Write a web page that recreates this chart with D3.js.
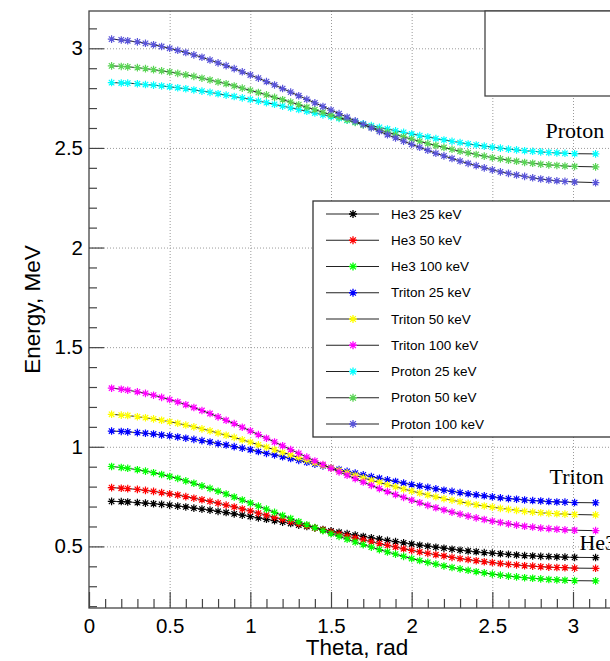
<!DOCTYPE html>
<html>
<head>
<meta charset="utf-8">
<script src="https://cdn.jsdelivr.net/npm/d3@7/dist/d3.min.js"></script>
<style>
  html, body { margin: 0; padding: 0; background: #fff; }
  svg { display: block; }
  text { font-family: "Liberation Sans", Arial, Helvetica, sans-serif; }
</style>
</head>
<body>
<svg id="chart" width="610" height="661"></svg>
<script>
// Emission angle (rad)
const theta = [0.14,0.20,0.24,0.30,0.35,0.40,0.45,0.50,0.55,0.60,0.65,0.70,0.75,0.80,0.85,0.90,0.95,1.00,1.05,1.10,1.15,1.20,1.25,1.30,1.35,1.40,1.45,1.50,1.55,1.60,1.65,1.70,1.75,1.80,1.85,1.90,1.95,2.00,2.05,2.10,2.15,2.20,2.25,2.30,2.35,2.40,2.45,2.50,2.55,2.60,2.65,2.70,2.75,2.80,2.85,2.90,2.95,3.01,3.14];

// Product energies (MeV) for deuteron energies of 25, 50 and 100 keV
const he3_25 = [0.726,0.725,0.723,0.720,0.717,0.714,0.711,0.707,0.702,0.698,0.692,0.687,0.682,0.676,0.670,0.663,0.657,0.650,0.643,0.636,0.629,0.622,0.615,0.607,0.600,0.593,0.585,0.578,0.571,0.564,0.557,0.550,0.543,0.537,0.530,0.524,0.518,0.512,0.506,0.501,0.496,0.491,0.486,0.481,0.477,0.473,0.469,0.466,0.463,0.460,0.457,0.454,0.452,0.450,0.449,0.447,0.446,0.445,0.444];
const he3_50 = [0.795,0.792,0.790,0.786,0.781,0.776,0.770,0.764,0.758,0.750,0.742,0.734,0.726,0.717,0.707,0.698,0.688,0.678,0.667,0.657,0.646,0.636,0.625,0.614,0.604,0.593,0.583,0.572,0.562,0.552,0.542,0.533,0.523,0.514,0.505,0.497,0.488,0.480,0.472,0.465,0.458,0.452,0.445,0.439,0.434,0.428,0.423,0.419,0.414,0.410,0.407,0.403,0.401,0.398,0.396,0.394,0.393,0.391,0.390];
const he3_100 = [0.901,0.896,0.892,0.885,0.878,0.870,0.861,0.851,0.841,0.829,0.817,0.804,0.791,0.777,0.763,0.748,0.733,0.718,0.702,0.687,0.671,0.655,0.640,0.624,0.609,0.594,0.579,0.564,0.550,0.536,0.522,0.509,0.496,0.484,0.472,0.461,0.450,0.439,0.429,0.420,0.411,0.402,0.394,0.387,0.380,0.373,0.367,0.361,0.356,0.351,0.347,0.343,0.340,0.337,0.334,0.332,0.330,0.328,0.327];
const tri_25 = [1.079,1.077,1.075,1.071,1.068,1.064,1.059,1.055,1.049,1.043,1.037,1.031,1.024,1.016,1.009,1.001,0.993,0.985,0.976,0.967,0.959,0.950,0.941,0.932,0.922,0.913,0.904,0.895,0.886,0.877,0.868,0.859,0.850,0.842,0.834,0.826,0.818,0.810,0.803,0.796,0.789,0.782,0.776,0.770,0.764,0.759,0.754,0.749,0.744,0.740,0.737,0.733,0.730,0.728,0.725,0.723,0.722,0.720,0.719];
const tri_50 = [1.163,1.159,1.157,1.151,1.146,1.140,1.133,1.126,1.118,1.109,1.100,1.090,1.080,1.069,1.058,1.047,1.035,1.023,1.010,0.998,0.985,0.972,0.959,0.946,0.933,0.920,0.907,0.894,0.881,0.869,0.856,0.844,0.832,0.821,0.809,0.799,0.788,0.778,0.768,0.758,0.749,0.740,0.732,0.724,0.716,0.709,0.703,0.697,0.691,0.686,0.681,0.676,0.672,0.669,0.666,0.664,0.662,0.660,0.658];
const tri_100 = [1.294,1.289,1.284,1.276,1.268,1.259,1.248,1.237,1.225,1.211,1.197,1.182,1.167,1.150,1.133,1.116,1.098,1.080,1.061,1.043,1.024,1.005,0.986,0.967,0.948,0.929,0.911,0.892,0.874,0.857,0.840,0.823,0.806,0.790,0.775,0.760,0.746,0.732,0.719,0.706,0.694,0.683,0.672,0.662,0.652,0.643,0.635,0.627,0.620,0.613,0.607,0.601,0.597,0.592,0.589,0.586,0.583,0.581,0.579];
const pro_25 = [2.828,2.826,2.825,2.822,2.818,2.815,2.811,2.807,2.802,2.797,2.791,2.785,2.779,2.772,2.765,2.758,2.751,2.743,2.735,2.727,2.719,2.710,2.701,2.693,2.684,2.675,2.666,2.657,2.648,2.639,2.630,2.621,2.612,2.603,2.595,2.586,2.578,2.570,2.562,2.555,2.547,2.540,2.533,2.527,2.520,2.515,2.509,2.504,2.499,2.494,2.490,2.486,2.483,2.480,2.477,2.475,2.473,2.471,2.470];
const pro_50 = [2.912,2.909,2.907,2.903,2.898,2.893,2.887,2.881,2.874,2.867,2.859,2.850,2.841,2.831,2.822,2.811,2.800,2.789,2.778,2.766,2.754,2.742,2.730,2.717,2.704,2.692,2.679,2.666,2.653,2.641,2.628,2.615,2.603,2.591,2.579,2.567,2.555,2.544,2.533,2.522,2.512,2.502,2.493,2.483,2.475,2.467,2.459,2.451,2.445,2.438,2.433,2.427,2.423,2.418,2.415,2.412,2.409,2.407,2.405];
const pro_100 = [3.046,3.042,3.038,3.032,3.025,3.018,3.009,3.000,2.990,2.979,2.967,2.955,2.941,2.927,2.913,2.898,2.882,2.866,2.850,2.833,2.816,2.798,2.780,2.762,2.744,2.726,2.708,2.690,2.672,2.654,2.636,2.618,2.601,2.583,2.566,2.550,2.534,2.518,2.503,2.488,2.473,2.460,2.447,2.434,2.422,2.411,2.400,2.390,2.380,2.372,2.364,2.357,2.350,2.344,2.339,2.335,2.332,2.329,2.326];

const seriesNames = ["He3 25 keV","He3 50 keV","He3 100 keV","Triton 25 keV","Triton 50 keV","Triton 100 keV","Proton 25 keV","Proton 50 keV","Proton 100 keV"];
const seriesValues = [he3_25, he3_50, he3_100, tri_25, tri_50, tri_100, pro_25, pro_50, pro_100];
const seriesColors = ["#000000","#ff0000","#00ff00","#0000ff","#ffff00","#ff00ff","#00ffff","#59d454","#5954d9"];

const xTicks = [0, 0.5, 1, 1.5, 2, 2.5, 3];
const yTicks = [0.5, 1, 1.5, 2, 2.5, 3];
const groupLabels = [
  {text: "Proton", x: 2.83, y: 2.55},
  {text: "Triton", x: 2.855, y: 0.815},
  {text: "He3", x: 3.04, y: 0.48}
];

const svg = d3.select("#chart");
const W = 610, H = 661;
const frame = {left: 89, top: 11, right: 625, bottom: 608};

const x = d3.scaleLinear().domain([0, 3]).range([89, 573]);
const y = d3.scaleLinear().domain([0.5, 3]).range([546.4, 48.3]);

svg.append("rect").attr("width", W).attr("height", H).attr("fill", "#fff");

// grid
const grid = svg.append("g").attr("stroke", "#9a9a9a").attr("stroke-width", 1).attr("stroke-dasharray", "1,2");
grid.selectAll("line.gx").data(xTicks.filter(d => d > 0)).join("line")
  .attr("x1", d => x(d) + 0.5).attr("x2", d => x(d) + 0.5)
  .attr("y1", frame.top).attr("y2", frame.bottom);
grid.selectAll("line.gy").data(yTicks).join("line")
  .attr("x1", frame.left).attr("x2", frame.right)
  .attr("y1", d => y(d) + 0.5).attr("y2", d => y(d) + 0.5);

// frame
svg.append("rect")
  .attr("x", frame.left).attr("y", frame.top)
  .attr("width", frame.right - frame.left).attr("height", frame.bottom - frame.top)
  .attr("fill", "none").attr("stroke", "#444").attr("stroke-width", 1.3);

// axes
const minorX = d3.range(0, 3.3, 0.1).filter(v => Math.abs(v * 2 - Math.round(v * 2)) > 1e-6);
const minorY = d3.range(0.2, 3.19, 0.1).filter(v => Math.abs(v * 2 - Math.round(v * 2)) > 1e-6);

const xAxis = svg.append("g").attr("transform", `translate(0,${frame.bottom})`)
  .call(d3.axisBottom(x).tickValues(xTicks).tickSizeInner(-16).tickSizeOuter(0).tickPadding(10)
    .tickFormat(d3.format("")));
const xMinor = svg.append("g").attr("transform", `translate(0,${frame.bottom})`)
  .call(d3.axisBottom(x).tickValues(minorX).tickSizeInner(-9).tickSizeOuter(0).tickFormat(""));

const yAxis = svg.append("g").attr("transform", `translate(${frame.left},0)`)
  .call(d3.axisLeft(y).tickValues(yTicks).tickSizeInner(-15).tickSizeOuter(0).tickPadding(6)
    .tickFormat(d3.format("")));
const yMinor = svg.append("g").attr("transform", `translate(${frame.left},0)`)
  .call(d3.axisLeft(y).tickValues(minorY).tickSizeInner(-8).tickSizeOuter(0).tickFormat(""));

[xAxis, xMinor, yAxis, yMinor].forEach(g => {
  g.select(".domain").remove();
  g.selectAll(".tick line").attr("stroke", "#444").attr("stroke-width", 1.2);
});
[xAxis, yAxis].forEach(g => {
  g.selectAll(".tick text").attr("fill", "#000").style("font-size", "20.5px")
    .style("font-family", "'Liberation Sans', Arial, sans-serif");
});

// axis titles, centred on their axes
svg.append("text").attr("x", (frame.left + frame.right) / 2).attr("y", 655).attr("text-anchor", "middle")
  .style("font-size", "22.5px").text("Theta, rad");
svg.append("text")
  .attr("transform", `translate(40,${(frame.top + frame.bottom) / 2}) rotate(-90)`)
  .attr("text-anchor", "middle")
  .style("font-size", "22.5px").text("Energy, MeV");

// marker: ROOT style asterisk
function starPath(r) {
  const d = r * 0.72;
  return `M${-r},0L${r},0M0,${-r}L0,${r}M${-d},${-d}L${d},${d}M${-d},${d}L${d},${-d}`;
}

const line = d3.line().x((d, i) => x(theta[i])).y(d => y(d));
const plot = svg.append("g");
seriesValues.forEach((vals, k) => {
  const g = plot.append("g");
  g.append("path").datum(vals).attr("d", line)
    .attr("fill", "none").attr("stroke", "#222").attr("stroke-width", 1);
  g.selectAll("path.m").data(vals).join("path").attr("class", "m")
    .attr("transform", (d, i) => `translate(${x(theta[i])},${y(d)})`)
    .attr("d", starPath(3.8))
    .attr("stroke", seriesColors[k]).attr("stroke-width", 1.2).attr("fill", "none");
});

// group labels
svg.selectAll("text.glab").data(groupLabels).join("text").attr("class", "glab")
  .attr("x", d => x(d.x)).attr("y", d => y(d.y))
  .style("font-family", "'Liberation Serif', 'Times New Roman', serif")
  .style("font-size", "22px").attr("fill", "#000").text(d => d.text);

// box in the upper right corner
svg.append("rect").attr("x", 485).attr("y", frame.top).attr("width", 200).attr("height", 85)
  .attr("fill", "#fff").attr("stroke", "#444").attr("stroke-width", 1.3);

// legend
const leg = svg.append("g");
const legTop = 201, rowH = 26.25;
leg.append("rect").attr("x", 313).attr("y", legTop).attr("width", 400).attr("height", 236)
  .attr("fill", "#fff").attr("stroke", "#333").attr("stroke-width", 1.3);
seriesNames.forEach((name, k) => {
  const yy = legTop + 13 + k * rowH;
  leg.append("line").attr("x1", 326).attr("x2", 379).attr("y1", yy).attr("y2", yy)
    .attr("stroke", "#222").attr("stroke-width", 1.2);
  leg.append("path").attr("transform", `translate(353,${yy})`).attr("d", starPath(4))
    .attr("stroke", seriesColors[k]).attr("stroke-width", 1.3).attr("fill", "none");
  leg.append("text").attr("x", 391).attr("y", yy).attr("dy", "0.35em")
    .style("font-size", "13.5px").attr("fill", "#000").text(name);
});
</script>
</body>
</html>
